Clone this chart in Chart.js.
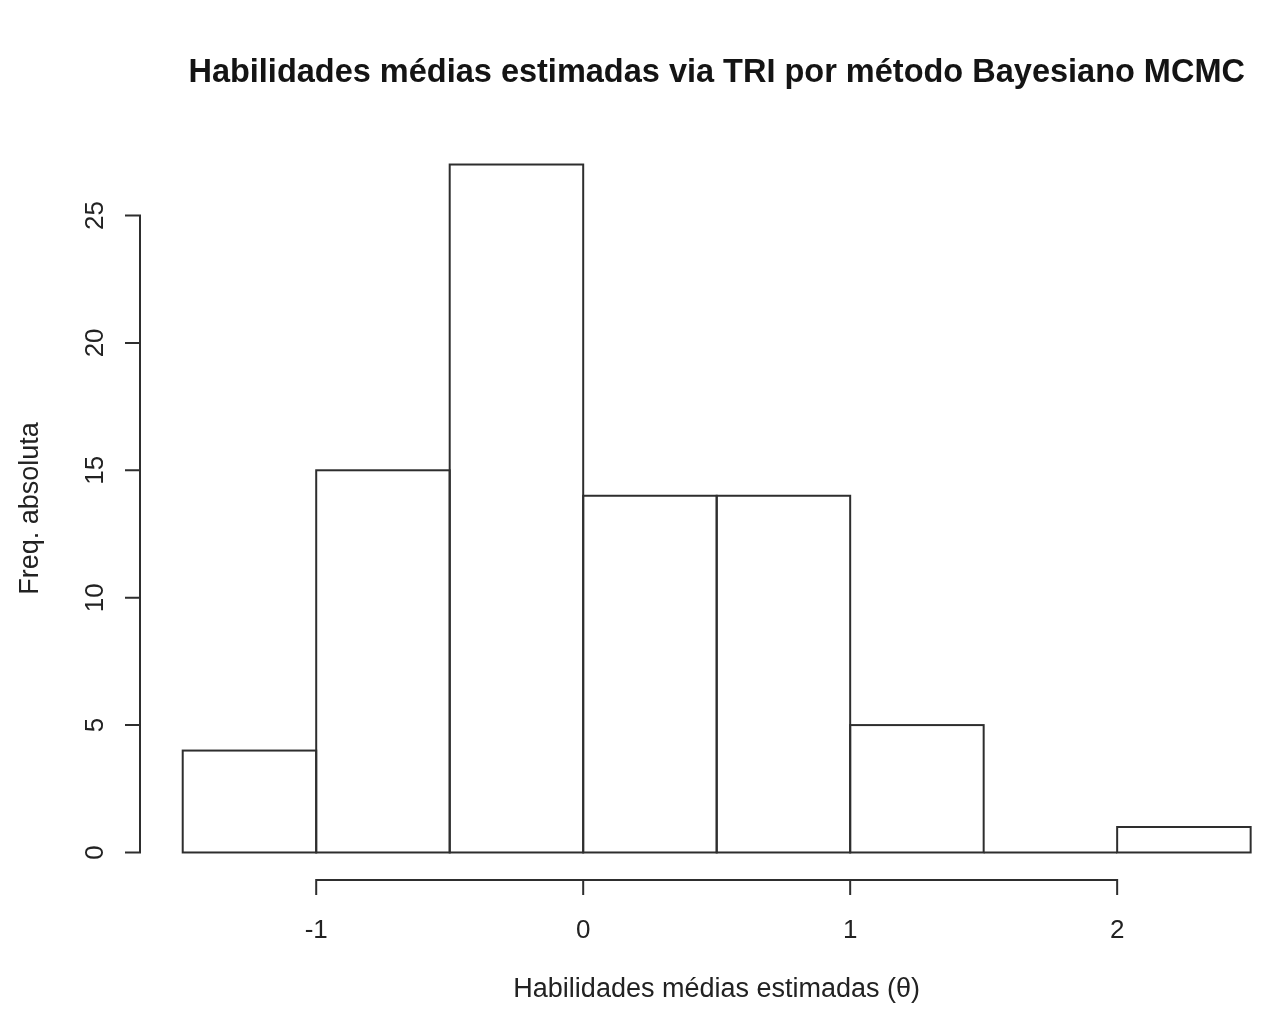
<!DOCTYPE html>
<html>
<head>
<meta charset="utf-8">
<script src="https://cdn.jsdelivr.net/npm/chart.js@4.4.1/dist/chart.umd.min.js"></script>
<style>
  html, body { margin: 0; padding: 0; background: #fff; overflow: hidden; }
  canvas { display: block; }
</style>
</head>
<body>
<canvas id="hist" width="1264" height="1034" style="width:1264px;height:1034px"></canvas>
<script>
// Histogram bins (width 0.5) and their absolute frequencies
const binCenters = [-1.25, -0.75, -0.25, 0.25, 0.75, 1.25, 1.75, 2.25];
const counts = [4, 15, 27, 14, 14, 5, 0, 1];

// Axis ticks
const xTicks = [-1, 0, 1, 2];
const yTicks = [0, 5, 10, 15, 20, 25];

// Texts
const titleText = 'Habilidades médias estimadas via TRI por método Bayesiano MCMC';
const xTitle = 'Habilidades médias estimadas (θ)';
const yTitle = 'Freq. absoluta';

const INK = '#2e2e2e';
const LINE_W = 2;
const FONT = '"Liberation Sans", Arial, Helvetica, sans-serif';

// Bar outlines (shared edges drawn once), R-style axes and titles
const baseGraphics = {
  id: 'baseGraphics',
  afterDatasetsDraw(chart) {
    const ctx = chart.ctx;
    const xs = chart.scales.x, ys = chart.scales.y;
    const area = chart.chartArea;
    ctx.save();
    ctx.strokeStyle = INK;
    ctx.lineWidth = LINE_W;
    ctx.lineCap = 'square';
    ctx.lineJoin = 'miter';

    // outline every bar, empty bins collapse to a segment on the baseline
    chart.getDatasetMeta(0).data.forEach(bar => {
      const p = bar.getProps(['x', 'y', 'base', 'width'], true);
      const left = p.x - p.width / 2;
      ctx.strokeRect(left, Math.min(p.y, p.base), p.width, Math.abs(p.base - p.y));
    });

    ctx.lineCap = 'butt';
    // x axis along the bottom of the plot region
    const axY = area.bottom;
    const tickLen = 15;
    ctx.beginPath();
    ctx.moveTo(xs.getPixelForValue(xTicks[0]), axY);
    ctx.lineTo(xs.getPixelForValue(xTicks[xTicks.length - 1]), axY);
    xTicks.forEach(t => {
      const px = xs.getPixelForValue(t);
      ctx.moveTo(px, axY - LINE_W / 2);
      ctx.lineTo(px, axY + tickLen);
    });
    ctx.stroke();

    // y axis along the left of the plot region
    const axX = area.left;
    ctx.beginPath();
    ctx.moveTo(axX, ys.getPixelForValue(yTicks[0]));
    ctx.lineTo(axX, ys.getPixelForValue(yTicks[yTicks.length - 1]));
    yTicks.forEach(t => {
      const py = ys.getPixelForValue(t);
      ctx.moveTo(axX + LINE_W / 2, py);
      ctx.lineTo(axX - tickLen, py);
    });
    ctx.stroke();

    ctx.fillStyle = '#222222';
    ctx.textAlign = 'center';
    ctx.textBaseline = 'alphabetic';

    // tick labels
    ctx.font = '26px ' + FONT;
    xTicks.forEach(t => {
      ctx.fillText(String(t), xs.getPixelForValue(t), axY + 58);
    });
    yTicks.forEach(t => {
      ctx.save();
      ctx.translate(axX - 37, ys.getPixelForValue(t));
      ctx.rotate(-Math.PI / 2);
      ctx.fillText(String(t), 0, 0);
      ctx.restore();
    });

    // axis titles
    ctx.font = '27px ' + FONT;
    ctx.fillText(xTitle, xs.getPixelForValue(0.5), axY + 117);
    ctx.save();
    ctx.translate(38, (area.top + area.bottom) / 2);
    ctx.rotate(-Math.PI / 2);
    ctx.fillText(yTitle, 0, 0);
    ctx.restore();

    // main title
    ctx.fillStyle = '#141414';
    ctx.font = 'bold 32.5px ' + FONT;
    ctx.fillText(titleText, xs.getPixelForValue(0.5), 82);

    ctx.restore();
  }
};

new Chart(document.getElementById('hist'), {
  type: 'bar',
  data: {
    datasets: [{
      data: binCenters.map((c, i) => ({ x: c, y: counts[i] })),
      backgroundColor: '#ffffff',
      borderWidth: 0,
      barPercentage: 1,
      categoryPercentage: 1
    }]
  },
  options: {
    responsive: false,
    animation: false,
    devicePixelRatio: 1,
    layout: { padding: { left: 140, right: 0, top: 137, bottom: 154 } },
    plugins: { legend: { display: false }, tooltip: { enabled: false }, title: { display: false } },
    scales: {
      x: { type: 'linear', min: -1.66, max: 2.55, offset: false, display: false },
      y: { type: 'linear', min: -1.08, max: 28.08, display: false }
    }
  },
  plugins: [baseGraphics]
});
</script>
</body>
</html>
